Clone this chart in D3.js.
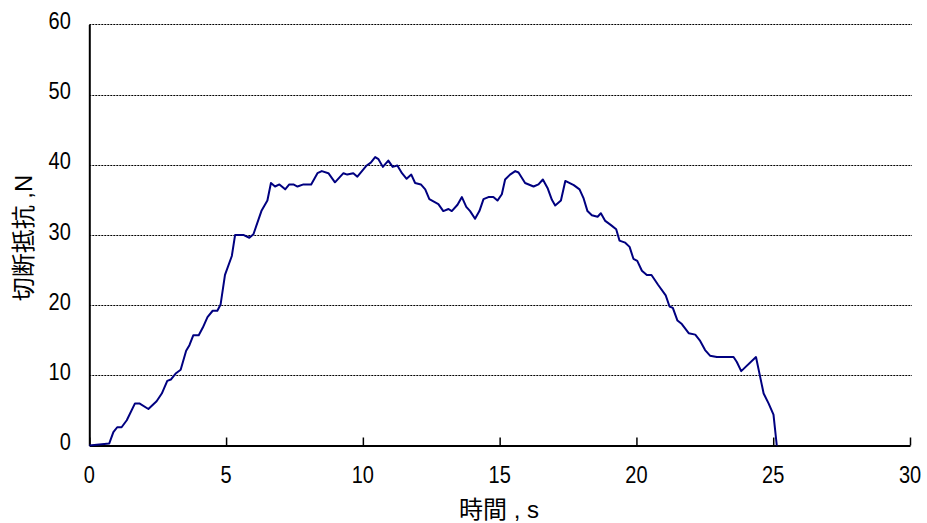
<!DOCTYPE html>
<html>
<head>
<meta charset="utf-8">
<script src="https://cdn.jsdelivr.net/npm/d3@7"></script>
<style>
    body { margin: 0; background: #fff; }
    svg { display: block; }
    text { font-family: "Liberation Sans", Arial, sans-serif; fill: #000; }
    .cjk { font-family: "Liberation Sans", "Noto Sans CJK JP", sans-serif; }
</style>
</head>
<body>
<svg id="chart"></svg>
<script>
// time (s) and cutting resistance (N)
const times = [0, 0.73, 0.88, 1.02, 1.18, 1.37, 1.67, 1.83, 2.16, 2.46,
    2.65, 2.85, 2.98, 3.17, 3.34, 3.54, 3.66, 3.80, 4.00, 4.15,
    4.32, 4.51, 4.68, 4.80, 4.96, 5.21, 5.33, 5.63, 5.85, 6.00,
    6.30, 6.51, 6.64, 6.79, 6.95, 7.16, 7.31, 7.46, 7.61, 7.83,
    8.11, 8.34, 8.50, 8.74, 8.98, 9.29, 9.43, 9.65, 9.80, 10.14,
    10.29, 10.45, 10.57, 10.73, 10.93, 11.09, 11.26, 11.43, 11.60, 11.77,
    11.91, 12.12, 12.28, 12.43, 12.76, 12.94, 13.13, 13.25, 13.46, 13.62,
    13.78, 13.92, 14.10, 14.26, 14.41, 14.59, 14.77, 14.92, 15.08, 15.20,
    15.38, 15.57, 15.69, 15.93, 16.24, 16.42, 16.58, 16.75, 16.91, 17.03,
    17.24, 17.40, 17.71, 17.92, 18.07, 18.21, 18.37, 18.58, 18.70, 18.86,
    19.07, 19.26, 19.38, 19.59, 19.75, 19.89, 20.03, 20.20, 20.38, 20.55,
    20.79, 21.07, 21.21, 21.33, 21.50, 21.66, 21.91, 22.15, 22.33, 22.51,
    22.69, 22.94, 23.55, 23.67, 23.83, 24.37, 24.50, 24.65, 24.83, 25.01,
    25.13];

const force = [0, 0.3, 1.9, 2.6, 2.6, 3.6, 6.0, 6.0, 5.2, 6.3,
    7.4, 9.2, 9.4, 10.3, 10.8, 13.5, 14.3, 15.7, 15.7, 16.8,
    18.3, 19.2, 19.2, 20.1, 24.3, 27.0, 30.0, 30.0, 29.6, 30.1,
    33.5, 34.9, 37.4, 36.9, 37.2, 36.5, 37.2, 37.2, 36.9, 37.2,
    37.2, 38.8, 39.1, 38.8, 37.5, 38.8, 38.6, 38.8, 38.3, 39.9,
    40.3, 41.1, 40.8, 39.7, 40.6, 39.7, 39.9, 38.8, 38.0, 38.6,
    37.4, 37.2, 36.5, 35.1, 34.4, 33.4, 33.7, 33.4, 34.3, 35.4,
    34.0, 33.4, 32.3, 33.4, 35.1, 35.4, 35.4, 34.9, 35.8, 37.9,
    38.6, 39.1, 38.9, 37.4, 36.9, 37.2, 37.9, 36.7, 35.0, 34.2,
    34.9, 37.7, 37.1, 36.5, 35.2, 33.4, 32.8, 32.6, 33.1, 32.0,
    31.4, 30.8, 29.2, 28.9, 28.3, 26.6, 26.3, 24.9, 24.3, 24.3,
    22.9, 21.4, 19.8, 19.6, 17.8, 17.3, 16.0, 15.8, 14.9, 13.6,
    12.8, 12.6, 12.6, 11.9, 10.6, 12.6, 10.2, 7.4, 6.0, 4.4,
    0];

const xTicks = [0, 5, 10, 15, 20, 25, 30];
const yTicks = [0, 10, 20, 30, 40, 50, 60];
const xLabel = "時間 , s";
const yLabel = "切断抵抗 ,N";

const width = 927;
const height = 523;
const margin = { top: 24.4, right: 17, bottom: 77.5, left: 89.3 };

const svg = d3.select("#chart").attr("width", width).attr("height", height);

const x = d3.scaleLinear()
    .domain([0, 30])
    .range([margin.left, width - margin.right]);

const y = d3.scaleLinear()
    .domain([0, 60])
    .range([height - margin.bottom, margin.top]);

// dotted grid
svg.append("g")
    .selectAll("line")
    .data(yTicks.filter(d => d > 0))
    .join("line")
    .attr("x1", x(0))
    .attr("x2", x(30) + 2)
    .attr("y1", d => Math.round(y(d)) + 0.5)
    .attr("y2", d => Math.round(y(d)) + 0.5)
    .attr("stroke", "#000")
    .attr("stroke-width", 1)
    .attr("stroke-dasharray", "2,1");

// axes, ticks pointing inwards
const xAxis = svg.append("g")
    .attr("transform", `translate(0,${y(0)})`)
    .call(d3.axisBottom(x).tickValues(xTicks).tickSize(-8).tickSizeOuter(0).tickFormat(""));
const yAxis = svg.append("g")
    .attr("transform", `translate(${x(0)},0)`)
    .call(d3.axisLeft(y).tickValues(yTicks).tickSize(0).tickSizeOuter(0).tickFormat(""));

[xAxis, yAxis].forEach(g => {
    g.select(".domain").attr("stroke", "#000").attr("stroke-width", 2);
    g.selectAll(".tick line").attr("stroke", "#000").attr("stroke-width", 1.5);
});

// tick labels (the picture is a bit stretched vertically)
svg.append("g")
    .selectAll("text")
    .data(xTicks)
    .join("text")
    .attr("transform", d => `translate(${x(d)},${y(0) + 37.5}) scale(1,1.15)`)
    .attr("text-anchor", "middle")
    .attr("font-size", 20)
    .text(d => d);

svg.append("g")
    .selectAll("text")
    .data(yTicks)
    .join("text")
    .attr("transform", d => `translate(${margin.left - 18.5},${y(d) + 4.6}) scale(1,1.15)`)
    .attr("text-anchor", "end")
    .attr("font-size", 20)
    .text(d => d);

// axis titles
svg.append("text")
    .attr("class", "cjk")
    .attr("x", 499)
    .attr("y", 518)
    .attr("text-anchor", "middle")
    .attr("font-size", 24)
    .text(xLabel);

svg.append("text")
    .attr("class", "cjk")
    .attr("transform", "translate(32,238) rotate(-90)")
    .attr("text-anchor", "middle")
    .attr("font-size", 24)
    .text(yLabel);

// the curve
const line = d3.line()
    .x(d => x(d[0]))
    .y(d => y(d[1]));

svg.append("path")
    .datum(d3.zip(times, force))
    .attr("fill", "none")
    .attr("stroke", "#000080")
    .attr("stroke-width", 2)
    .attr("stroke-linejoin", "round")
    .attr("d", line);
</script>
</body>
</html>
